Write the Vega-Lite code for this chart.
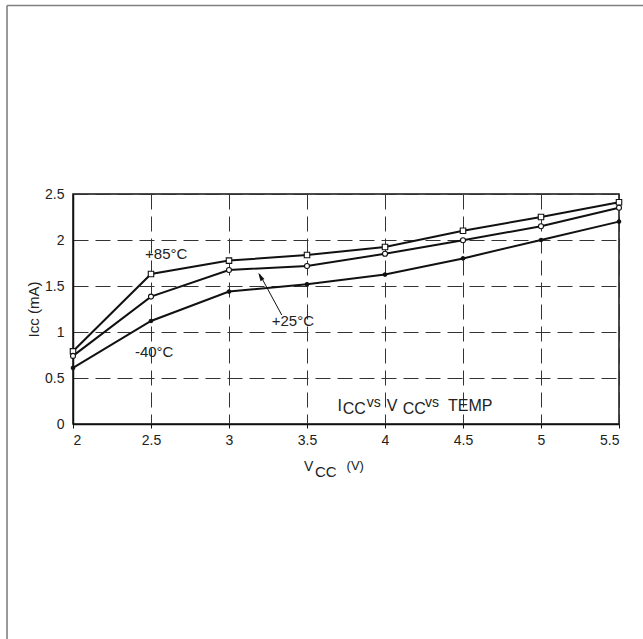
{
  "$schema": "https://vega.github.io/schema/vega-lite/v6.json",
  "width": 546,
  "height": 230,
  "autosize": {"type": "none"},
  "padding": {"left": 73, "top": 194, "right": 24, "bottom": 215},
  "background": "white",
  "config": {
    "font": "Liberation Sans",
    "view": {"stroke": "#111111", "strokeWidth": 1.5},
    "axis": {
      "labelFont": "Liberation Sans",
      "titleFont": "Liberation Sans",
      "labelFontSize": 14,
      "titleFontSize": 15,
      "titleFontWeight": "normal",
      "labelColor": "#222222",
      "titleColor": "#222222",
      "gridDash": [15, 7],
      "gridColor": "#333333",
      "gridWidth": 1,
      "gridOpacity": 1,
      "domainColor": "#111111",
      "domainWidth": 1.5
    },
    "axisX": {"tickSize": 4, "tickColor": "#111111", "labelPadding": 5},
    "axisY": {"ticks": false, "tickSize": 0, "labelPadding": 9, "titlePadding": 3}
  },
  "datasets": {
    "curves": [
      {"series": "+85°C", "x": 2.0, "y": 0.79},
      {"series": "+85°C", "x": 2.5, "y": 1.63},
      {"series": "+85°C", "x": 3.0, "y": 1.776},
      {"series": "+85°C", "x": 3.5, "y": 1.837},
      {"series": "+85°C", "x": 4.0, "y": 1.924},
      {"series": "+85°C", "x": 4.5, "y": 2.10},
      {"series": "+85°C", "x": 5.0, "y": 2.25},
      {"series": "+85°C", "x": 5.5, "y": 2.41},
      {"series": "+25°C", "x": 2.0, "y": 0.74},
      {"series": "+25°C", "x": 2.5, "y": 1.385},
      {"series": "+25°C", "x": 3.0, "y": 1.674},
      {"series": "+25°C", "x": 3.5, "y": 1.717},
      {"series": "+25°C", "x": 4.0, "y": 1.85},
      {"series": "+25°C", "x": 4.5, "y": 1.997},
      {"series": "+25°C", "x": 5.0, "y": 2.15},
      {"series": "+25°C", "x": 5.5, "y": 2.35},
      {"series": "-40°C", "x": 2.0, "y": 0.61},
      {"series": "-40°C", "x": 2.5, "y": 1.12},
      {"series": "-40°C", "x": 3.0, "y": 1.44},
      {"series": "-40°C", "x": 3.5, "y": 1.52},
      {"series": "-40°C", "x": 4.0, "y": 1.624},
      {"series": "-40°C", "x": 4.5, "y": 1.80},
      {"series": "-40°C", "x": 5.0, "y": 2.00},
      {"series": "-40°C", "x": 5.5, "y": 2.20}
    ],
    "labels": [
      {"text": "+85°C", "x": 2.462, "y": 1.793, "kind": "note"},
      {"text": "-40°C", "x": 2.397, "y": 0.731, "kind": "note"},
      {"text": "+25°C", "x": 3.274, "y": 1.065, "kind": "note"},
      {"text": "I", "x": 3.695, "y": 0.145, "kind": "big"},
      {"text": "CC", "x": 3.729, "y": 0.109, "kind": "big"},
      {"text": "vs", "x": 3.883, "y": 0.182, "kind": "small"},
      {"text": "V", "x": 4.011, "y": 0.145, "kind": "big"},
      {"text": "CC", "x": 4.113, "y": 0.109, "kind": "big"},
      {"text": "vs", "x": 4.256, "y": 0.182, "kind": "small"},
      {"text": "TEMP", "x": 4.404, "y": 0.145, "kind": "big"},
      {"text": "V", "x": 3.481, "y": -0.508, "kind": "axis"},
      {"text": "CC", "x": 3.551, "y": -0.576, "kind": "axissub"},
      {"text": "(V)", "x": 3.754, "y": -0.5, "kind": "paren"}
    ],
    "arrow": [
      {"x": 3.338, "y": 1.185, "x2": 3.196, "y2": 1.63}
    ],
    "arrowhead": [
      {"x": 3.188, "y": 1.645}
    ],
    "frame": [
      {"x": 1.577, "y": -2.6, "x2": 1.577, "y2": 4.549},
      {"x": 1.577, "y": 4.549, "x2": 5.9, "y2": 4.549}
    ]
  },
  "encoding": {
    "x": {
      "field": "x",
      "type": "quantitative",
      "scale": {"domain": [2, 5.5], "nice": false, "zero": false},
      "axis": {
        "values": [2, 2.5, 3, 3.5, 4, 4.5, 5, 5.5],
        "format": "~g",
        "title": null,
        "grid": true
      }
    },
    "y": {
      "field": "y",
      "type": "quantitative",
      "scale": {"domain": [0, 2.5], "nice": false, "zero": false},
      "axis": {
        "values": [0, 0.5, 1, 1.5, 2, 2.5],
        "format": "~g",
        "title": "Icc (mA)",
        "grid": true
      }
    }
  },
  "layer": [
    {
      "data": {"name": "frame"},
      "mark": {"type": "rule", "color": "#808080", "strokeWidth": 1.6, "clip": false},
      "encoding": {"x2": {"field": "x2"}, "y2": {"field": "y2"}}
    },
    {
      "data": {"name": "curves"},
      "mark": {"type": "line", "color": "#111111", "strokeWidth": 2},
      "encoding": {"detail": {"field": "series", "type": "nominal"}}
    },
    {
      "data": {"name": "curves"},
      "mark": {"type": "point", "filled": true, "stroke": "#111111", "strokeWidth": 1.1, "opacity": 1},
      "encoding": {
        "shape": {"field": "series", "type": "nominal", "scale": {"domain": ["+85°C", "+25°C", "-40°C"], "range": ["square", "circle", "circle"]}, "legend": null},
        "fill": {"field": "series", "type": "nominal", "scale": {"domain": ["+85°C", "+25°C", "-40°C"], "range": ["#ffffff", "#ffffff", "#111111"]}, "legend": null},
        "size": {"field": "series", "type": "nominal", "scale": {"type": "ordinal", "domain": ["+85°C", "+25°C", "-40°C"], "range": [30, 25, 12]}, "legend": null}
      }
    },
    {
      "data": {"name": "arrow"},
      "mark": {"type": "rule", "color": "#111111", "strokeWidth": 1},
      "encoding": {"x2": {"field": "x2"}, "y2": {"field": "y2"}}
    },
    {
      "data": {"name": "arrowhead"},
      "mark": {"type": "point", "shape": "M0,0L0.45,1.7L-0.45,1.7Z", "filled": true, "color": "#111111", "size": 100, "angle": 331, "opacity": 1}
    },
    {
      "data": {"name": "labels"},
      "transform": [{"filter": "datum.kind == 'note'"}],
      "mark": {"type": "text", "align": "left", "baseline": "alphabetic", "color": "#222222", "font": "Liberation Sans", "fontSize": 15},
      "encoding": {"text": {"field": "text"}}
    },
    {
      "data": {"name": "labels"},
      "transform": [{"filter": "datum.kind == 'big'"}],
      "mark": {"type": "text", "align": "left", "baseline": "alphabetic", "color": "#222222", "font": "Liberation Sans", "fontSize": 16},
      "encoding": {"text": {"field": "text"}}
    },
    {
      "data": {"name": "labels"},
      "transform": [{"filter": "datum.kind == 'small'"}],
      "mark": {"type": "text", "align": "left", "baseline": "alphabetic", "color": "#222222", "font": "Liberation Sans", "fontSize": 14},
      "encoding": {"text": {"field": "text"}}
    },
    {
      "data": {"name": "labels"},
      "transform": [{"filter": "datum.kind == 'axis'"}],
      "mark": {"type": "text", "align": "left", "baseline": "alphabetic", "color": "#222222", "font": "Liberation Sans", "fontSize": 14},
      "encoding": {"text": {"field": "text"}}
    },
    {
      "data": {"name": "labels"},
      "transform": [{"filter": "datum.kind == 'axissub'"}],
      "mark": {"type": "text", "align": "left", "baseline": "alphabetic", "color": "#222222", "font": "Liberation Sans", "fontSize": 15},
      "encoding": {"text": {"field": "text"}}
    },
    {
      "data": {"name": "labels"},
      "transform": [{"filter": "datum.kind == 'paren'"}],
      "mark": {"type": "text", "align": "left", "baseline": "alphabetic", "color": "#222222", "font": "Liberation Sans", "fontSize": 13},
      "encoding": {"text": {"field": "text"}}
    }
  ]
}
